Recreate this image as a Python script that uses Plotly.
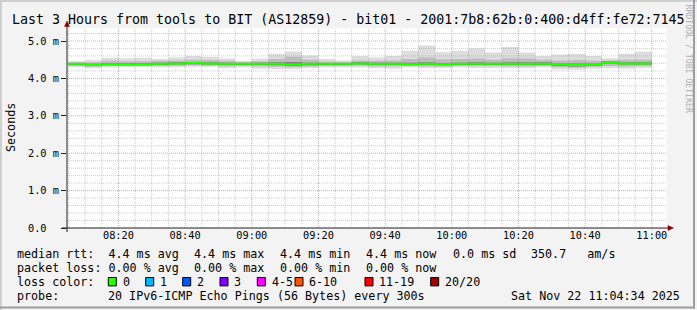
import plotly.graph_objects as go
from datetime import datetime, timedelta

# ---------------- data ----------------
title_text = "Last 3 Hours from tools to BIT (AS12859) - bit01 - 2001:7b8:62b:0:400:d4ff:fe72:7145"
y_axis_title = "Seconds"
watermark = "RRDTOOL / TOBI OETIKER"
graph_start = "2025-11-22 08:04:34"
graph_end = "2025-11-22 11:04:34"
step_minutes = 5

# end time of each 5-minute consolidation bin
bin_end = ["08:10", "08:15", "08:20", "08:25", "08:30", "08:35", "08:40", "08:45", "08:50",
           "08:55", "09:00", "09:05", "09:10", "09:15", "09:20", "09:25", "09:30", "09:35",
           "09:40", "09:45", "09:50", "09:55", "10:00", "10:05", "10:10", "10:15", "10:20",
           "10:25", "10:30", "10:35", "10:40", "10:45", "10:50", "10:55", "11:00"]

# smoke (ms): outer = slowest / fastest ping, mid and inner = inner ping pairs
ping_max = [4.46, 4.49, 4.55, 4.54, 4.55, 4.52, 4.56, 4.60, 4.57, 4.53, 4.47, 4.53, 4.66, 4.72,
            4.61, 4.52, 4.48, 4.59, 4.56, 4.60, 4.74, 4.88, 4.70, 4.74, 4.80, 4.69, 4.84, 4.69,
            4.60, 4.64, 4.65, 4.60, 4.54, 4.66, 4.71]
ping_mid_hi = [4.43, 4.43, 4.47, 4.46, 4.46, 4.47, 4.48, 4.50, 4.49, 4.47, 4.44, 4.46, 4.52, 4.58,
               4.50, 4.45, 4.44, 4.48, 4.47, 4.48, 4.52, 4.56, 4.51, 4.52, 4.53, 4.50, 4.54, 4.53,
               4.50, 4.48, 4.49, 4.47, 4.48, 4.50, 4.50]
ping_in_hi = [4.41, 4.39, 4.41, 4.41, 4.41, 4.42, 4.43, 4.44, 4.43, 4.42, 4.41, 4.42, 4.43, 4.44,
              4.42, 4.41, 4.41, 4.43, 4.42, 4.42, 4.42, 4.43, 4.41, 4.42, 4.43, 4.42, 4.43, 4.43,
              4.43, 4.40, 4.40, 4.40, 4.45, 4.43, 4.43]
median_rtt = [4.39, 4.36, 4.38, 4.38, 4.38, 4.39, 4.40, 4.41, 4.40, 4.39, 4.39, 4.39, 4.39, 4.37,
              4.39, 4.39, 4.39, 4.40, 4.39, 4.39, 4.38, 4.39, 4.38, 4.39, 4.39, 4.39, 4.39, 4.39,
              4.39, 4.37, 4.36, 4.37, 4.43, 4.40, 4.40]
ping_in_lo = [4.36, 4.33, 4.35, 4.35, 4.35, 4.36, 4.37, 4.38, 4.37, 4.36, 4.36, 4.36, 4.35, 4.33,
              4.35, 4.36, 4.36, 4.37, 4.36, 4.36, 4.35, 4.36, 4.35, 4.36, 4.36, 4.36, 4.36, 4.36,
              4.36, 4.33, 4.32, 4.34, 4.40, 4.37, 4.37]
ping_mid_lo = [4.33, 4.31, 4.33, 4.33, 4.33, 4.33, 4.34, 4.35, 4.34, 4.32, 4.33, 4.32, 4.31, 4.30,
               4.32, 4.33, 4.33, 4.34, 4.32, 4.32, 4.33, 4.32, 4.32, 4.33, 4.33, 4.33, 4.32, 4.32,
               4.33, 4.30, 4.29, 4.31, 4.33, 4.32, 4.33]
ping_min = [4.30, 4.27, 4.29, 4.30, 4.30, 4.29, 4.30, 4.31, 4.31, 4.27, 4.29, 4.26, 4.25, 4.25,
            4.27, 4.29, 4.29, 4.29, 4.27, 4.26, 4.29, 4.27, 4.28, 4.29, 4.28, 4.28, 4.27, 4.27,
            4.29, 4.24, 4.24, 4.26, 4.27, 4.26, 4.27]

y_tick_vals = [0, 1, 2, 3, 4, 5]
y_tick_text = ["0.0\u00a0\u00a0", "1.0 m", "2.0 m", "3.0 m", "4.0 m", "5.0 m"]

rtt_stats = ["median rtt:  4.4 ms avg", "4.4 ms max", "4.4 ms min", "4.4 ms now", "0.0 ms sd", "350.7   am/s"]
loss_stats = ["packet loss: 0.00 % avg", "0.00 % max", "0.00 % min", "0.00 % now"]
loss_labels = ["0", "1", "2", "3", "4-5", "6-10", "11-19", "20/20"]
loss_colors = ["#26ff00", "#00b8ff", "#0059ff", "#7e00ff", "#ff00ff", "#ff5500", "#ff0000", "#a00000"]
probe_text = "20 IPv6-ICMP Echo Pings (56 Bytes) every 300s"
stamp_text = "Sat Nov 22 11:04:34 2025"

# ---------------- geometry helpers ----------------
W, H = 697, 310
PL, PR, PT, PB = 67, 667, 28, 228          # canvas pixel box
PX_PER_MS = 37.4
Y_MAX = (PB - PT) / PX_PER_MS


def px_x(px):
    return (px - PL) / (PR - PL)


def px_y(py):
    return (PB - py) / (PB - PT)


FONT = "DejaVu Sans Mono"
day = "2025-11-22 "
t0 = datetime.strptime(graph_start, "%Y-%m-%d %H:%M:%S")
t1 = datetime.strptime(graph_end, "%Y-%m-%d %H:%M:%S")
ends = [datetime.strptime(day + e, "%Y-%m-%d %H:%M") for e in bin_end]
starts = [max(e - timedelta(minutes=step_minutes), t0) for e in ends]
xs = starts + [ends[-1]]


def steps(vals):
    return list(vals) + [vals[-1]]


fig = go.Figure()
layers = [(ping_min, ping_max, "#dddddd"),
          (ping_mid_lo, ping_mid_hi, "#bdbdbd"),
          (ping_in_lo, ping_in_hi, "#808080")]
for lo, hi, col in layers:
    fig.add_trace(go.Scatter(x=xs, y=steps(lo), mode="lines", line=dict(width=0, shape="hv"),
                             hoverinfo="skip", showlegend=False))
    fig.add_trace(go.Scatter(x=xs, y=steps(hi), mode="lines", line=dict(width=0, shape="hv"),
                             fill="tonexty", fillcolor=col, hoverinfo="skip", showlegend=False))
fig.add_trace(go.Scatter(x=xs, y=steps(median_rtt), mode="lines",
                         line=dict(width=2, shape="hv", color=loss_colors[0]),
                         showlegend=False))

shapes = []
# grid on top of the data (rrdtool style)
minor_col = "rgba(143,143,143,0.45)"
major_col = "rgba(222,80,80,0.55)"
t = datetime.strptime(day + "08:05", "%Y-%m-%d %H:%M")
while t <= t1:
    major = (t.minute % 20 == 0)
    shapes.append(dict(type="line", xref="x", yref="paper", x0=t, x1=t, y0=0, y1=1, layer="above",
                       line=dict(color=major_col if major else minor_col, width=1, dash="1px,1px")))
    t += timedelta(minutes=5)
k = 1
while k * 0.2 < Y_MAX:
    v = k * 0.2
    major = (k % 5 == 0)
    shapes.append(dict(type="line", xref="paper", yref="y", x0=0, x1=1, y0=v, y1=v, layer="above",
                       line=dict(color=major_col if major else minor_col, width=1, dash="1px,1px")))
    k += 1

# axes lines + arrows
axis_col = "#202020"
arrow_col = "#8b0000"
shapes.append(dict(type="line", xref="paper", yref="paper", x0=px_x(62), x1=px_x(669), y0=0, y1=0,
                   line=dict(color=axis_col, width=1), layer="above"))
shapes.append(dict(type="line", xref="paper", yref="paper", x0=0, x1=0, y0=px_y(232), y1=px_y(25),
                   line=dict(color=axis_col, width=1), layer="above"))
shapes.append(dict(type="path", xref="paper", yref="paper", layer="above",
                   path=f"M {px_x(668)} {px_y(225.5)} L {px_x(673.5)} {px_y(228)} L {px_x(668)} {px_y(230.5)} Z",
                   fillcolor=arrow_col, line=dict(color=arrow_col, width=0.5)))
shapes.append(dict(type="path", xref="paper", yref="paper", layer="above",
                   path=f"M {px_x(64.5)} {px_y(26.5)} L {px_x(67)} {px_y(21)} L {px_x(69.5)} {px_y(26.5)} Z",
                   fillcolor=arrow_col, line=dict(color=arrow_col, width=0.5)))

# image border (3D shading)
shapes.append(dict(type="line", xref="paper", yref="paper", x0=px_x(0), x1=px_x(W), y0=px_y(1), y1=px_y(1),
                   line=dict(color="#cfcfcf", width=2)))
shapes.append(dict(type="line", xref="paper", yref="paper", x0=px_x(1), x1=px_x(1), y0=px_y(0), y1=px_y(H),
                   line=dict(color="#cfcfcf", width=2)))
shapes.append(dict(type="line", xref="paper", yref="paper", x0=px_x(0), x1=px_x(695), y0=px_y(307.5), y1=px_y(307.5),
                   line=dict(color="#9e9e9e", width=2)))
shapes.append(dict(type="line", xref="paper", yref="paper", x0=px_x(694), x1=px_x(694), y0=px_y(0), y1=px_y(308.5),
                   line=dict(color="#9e9e9e", width=2)))

annotations = []


def text(px, py, s, size=11.7, anchor="left", color="#000000", angle=0):
    annotations.append(dict(x=px_x(px), y=px_y(py), xref="paper", yref="paper", text=s,
                            showarrow=False, xanchor=anchor, yanchor="middle", textangle=angle,
                            borderpad=0, font=dict(family=FONT, size=size, color=color)))


text(348, 19, title_text, size=13.3, anchor="center")
text(11, 128, y_axis_title, size=11.7, anchor="center", angle=-90)
text(688.5, 59, watermark, size=8.2, anchor="center", color="#b0b0b0", angle=90)

row_y = [254, 268.3, 281.7, 296]
rtt_x = [16, 193.3, 279, 365, 451.7, 530]
for px, s in zip(rtt_x, rtt_stats):
    text(px, row_y[0], s)
loss_x = [16, 193.3, 279, 365]
for px, s in zip(loss_x, loss_stats):
    text(px, row_y[1], s)
text(16, row_y[2], "loss color:")
box_x = [108.3, 145.7, 182.7, 220, 257.3, 295, 365, 430.7]
for bx, lab, col in zip(box_x, loss_labels, loss_colors):
    shapes.append(dict(type="rect", xref="paper", yref="paper",
                       x0=px_x(bx), x1=px_x(bx + 8), y0=px_y(row_y[2] - 4.2), y1=px_y(row_y[2] + 4.2),
                       fillcolor=col, line=dict(color="#000000", width=1)))
    text(bx + 13.3, row_y[2], lab)
text(16, row_y[3], "probe:")
text(107.3, row_y[3], probe_text)
text(680.5, row_y[3], stamp_text, anchor="right")

fig.update_layout(
    width=W, height=H, autosize=False,
    margin=dict(l=PL, r=W - PR, t=PT, b=H - PB, pad=0),
    paper_bgcolor="#f3f3f3", plot_bgcolor="#ffffff",
    font=dict(family=FONT, size=10.3, color="#000000"),
    showlegend=False,
    shapes=shapes, annotations=annotations,
    xaxis=dict(type="date", range=[t0, t1], showgrid=False, zeroline=False, showline=False,
               tick0=day + "08:00", dtick=20 * 60 * 1000, tickformat="%H:%M",
               ticks="", tickfont=dict(family=FONT, size=10.3, color="#000000"), fixedrange=True),
    yaxis=dict(range=[0, Y_MAX], showgrid=False, zeroline=False, showline=False,
               tickmode="array", tickvals=y_tick_vals, ticktext=y_tick_text,
               ticks="outside", ticklen=5, tickcolor=axis_col,
               tickfont=dict(family=FONT, size=10.3, color="#000000"), fixedrange=True),
)

fig.write_html("out.html")
